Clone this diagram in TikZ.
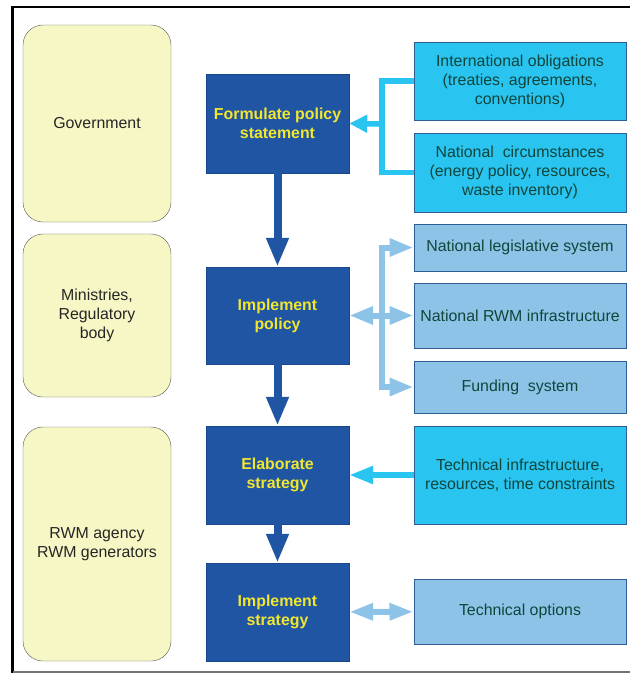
\documentclass[tikz,border=0pt]{standalone}
\usepackage{fontspec}
\setmainfont{Liberation Sans}
\usetikzlibrary{arrows.meta, positioning}
\definecolor{actoryellow}{HTML}{F7F7C6}
\definecolor{taskblue}{HTML}{1F55A3}
\definecolor{taskyellow}{HTML}{F2E630}
\definecolor{inputcyan}{HTML}{2AC4F1}
\definecolor{inputblue}{HTML}{8EC3E8}
\definecolor{inputtext}{HTML}{10463A}
\definecolor{inputborder}{HTML}{2E5E93}

\begin{document}
\begin{tikzpicture}[x=1pt, y=-1pt,
    every node/.style={font=\fontsize{15.9pt}{19pt}\selectfont,
      align=center,
      inner sep=2pt},
    actor/.style={rectangle,
      rounded corners=20pt,
      draw=black!65,
      fill=actoryellow,
      minimum width=148pt,
      text=black!85},
    task/.style={rectangle,
      draw=taskblue!85!black,
      fill=taskblue,
      minimum width=143pt,
      text=taskyellow,
      font=\fontsize{15.9pt}{19pt}\selectfont\bfseries},
    input/.style={rectangle,
      draw=inputborder,
      line width=1pt,
      fill=#1,
      minimum width=212pt,
      text=inputtext},
    mainflow/.style={draw=taskblue,
      line width=8pt,
      -{Triangle[length=29pt, width=21pt]}},
    feed/.style={draw=inputcyan,
      line width=5.5pt},
    link/.style={draw=inputblue,
      line width=6pt}]

  \useasboundingbox (0,0) rectangle (630,673);

  % FRAME
  \draw[line width=2.5pt] (630,7) -- (12.5,7) -- (12.5,673);
  \draw[black!55, line width=1.5pt] (12.5,672) -- (630,672);

  % ACTORS
  \node[actor, minimum height=197pt] (gov) at (97,123.5) {Government};
  \node[actor, minimum height=163pt] (ministries) at (97,315.5)
    {Ministries,\\Regulatory\\body};
  \node[actor, minimum height=234pt] (agency) at (97,544)
    {RWM agency\\RWM generators};

  % STEPS
  \node[task, minimum height=99pt] (formulate) at (277.5,123.5)
    {Formulate policy\\statement};
  \node[task, minimum height=97pt] (implpolicy) at (277.5,315.5)
    {Implement\\policy};
  \node[task, minimum height=98pt] (elaborate) at (277.5,475)
    {Elaborate\\strategy};
  \node[task, minimum height=98pt] (implstrategy) at (277.5,612)
    {Implement\\strategy};

  % INPUTS
  \node[input=inputcyan, minimum height=78pt] (intl) at (520,81)
    {International obligations\\(treaties, agreements,\\conventions)};
  \node[input=inputcyan, minimum height=79pt] (natcirc) at (520,172.5)
    {National~ circumstances\\(energy policy, resources,\\waste inventory)};
  \node[input=inputblue, minimum height=47pt] (legis) at (520,247.5)
    {National legislative system};
  \node[input=inputblue, minimum height=65pt] (rwminfra) at (520,315.5)
    {National RWM infrastructure};
  \node[input=inputblue, minimum height=52pt] (funding) at (520,387)
    {Funding~ system};
  \node[input=inputcyan, minimum height=98pt] (techinfra) at (520,475)
    {Technical infrastructure,\\resources, time constraints};
  \node[input=inputblue, minimum height=65pt] (techopt) at (520,611.5)
    {Technical options};

  \coordinate (feedjoin) at (382,124);
  \coordinate (linkjoin) at (382,315.5);

  % MAIN FLOW
  \draw[mainflow] (formulate) -- (implpolicy);
  \draw[mainflow] (implpolicy) -- (elaborate);
  \draw[mainflow] (elaborate) -- (implstrategy);

  % CONDITIONS
  \draw[feed] (intl.west) -| (feedjoin) |- (natcirc.west);
  \draw[feed, -{Triangle[length=18pt, width=17pt]}] (feedjoin) -- (formulate.east);
  \draw[feed, -{Triangle[length=24pt, width=17pt]}] (techinfra) -- (elaborate);

  % FRAMEWORK
  \draw[link, {Triangle[length=24pt, width=17pt]}-{Triangle[length=24pt, width=17pt]}]
    (implpolicy) -- (rwminfra);
  \draw[link, -{Triangle[length=24pt, width=17pt]}] (linkjoin) |- (legis.west);
  \draw[link, -{Triangle[length=24pt, width=17pt]}] (linkjoin) |- (funding.west);
  \draw[link, {Triangle[length=24pt, width=16pt]}-{Triangle[length=24pt, width=16pt]}]
    (implstrategy) -- (techopt);

\end{tikzpicture}
\end{document}
